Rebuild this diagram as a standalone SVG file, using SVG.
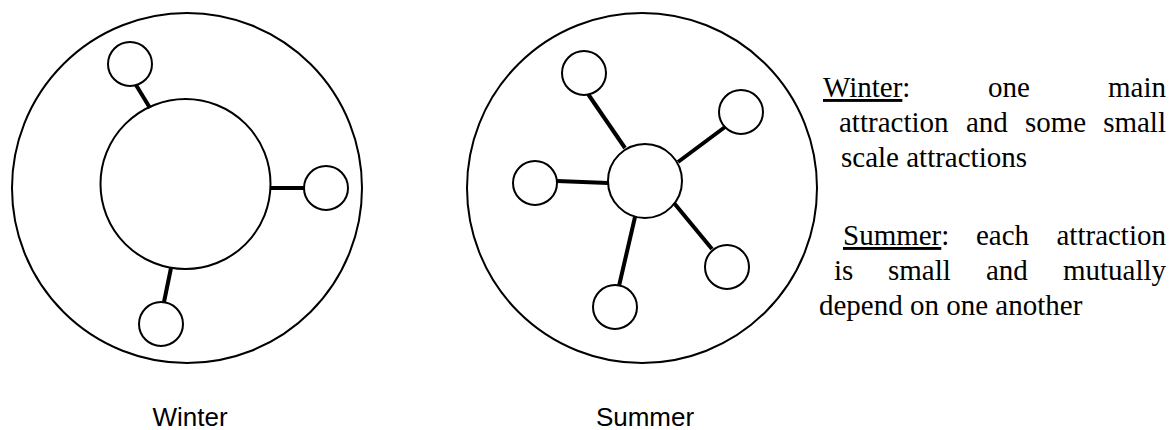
<svg xmlns="http://www.w3.org/2000/svg" width="1176" height="430" viewBox="0 0 1176 430">
<style>
.c{fill:none;stroke:#000;stroke-width:2}
.e{stroke:#000;stroke-width:4;stroke-linecap:butt}
.lbl{font-family:"Liberation Sans",Arial,sans-serif;font-size:26px;fill:#000;text-anchor:middle}
.t{font-family:"Liberation Serif","Times New Roman",serif;font-size:29px;fill:#000}
.u{text-decoration:underline}
.end{text-anchor:end}
</style>
<rect width="1176" height="430" fill="#fff"/>
<g id="winter">
<circle id="winter-outer" class="c" cx="187" cy="188" r="175"/>
<g id="winter-main"><circle class="c" cx="185.5" cy="184" r="85"/></g>
<g id="winter-a1"><circle class="c" cx="130" cy="64" r="22"/></g>
<g id="winter-a2"><circle class="c" cx="326" cy="188" r="22"/></g>
<g id="winter-a3"><circle class="c" cx="161" cy="324" r="22"/></g>
</g>
<g id="summer">
<circle id="summer-outer" class="c" cx="642" cy="188" r="175"/>
<g id="summer-main"><circle class="c" cx="645" cy="181" r="37"/></g>
<g id="summer-a1"><circle class="c" cx="584" cy="73" r="22"/></g>
<g id="summer-a2"><circle class="c" cx="741" cy="112" r="22"/></g>
<g id="summer-a3"><circle class="c" cx="535" cy="183" r="22"/></g>
<g id="summer-a4"><circle class="c" cx="727" cy="267" r="22"/></g>
<g id="summer-a5"><circle class="c" cx="615" cy="307" r="22"/></g>
</g>
<g id="connectors">
<line class="e" x1="136" y1="85" x2="150" y2="108"/>
<line class="e" x1="271" y1="188" x2="304" y2="188"/>
<line class="e" x1="171" y1="268" x2="164" y2="302"/>
<line class="e" x1="588" y1="94" x2="625" y2="148"/>
<line class="e" x1="725" y1="127" x2="678" y2="162"/>
<line class="e" x1="557" y1="181" x2="608" y2="183"/>
<line class="e" x1="674" y1="203" x2="712" y2="249"/>
<line class="e" x1="635" y1="217" x2="619" y2="286"/>
</g>
<g id="labels">
<text class="lbl" x="190" y="426">Winter</text>
<text class="lbl" x="645" y="426">Summer</text>
</g>
<g id="description">
<text class="t" y="97"><tspan x="823" class="u">Winter</tspan><tspan>:</tspan><tspan x="988">one</tspan></text>
<text class="t end" x="1166" y="97">main</text>
<text class="t" y="132"><tspan x="839">attraction</tspan><tspan x="966">and</tspan><tspan x="1025">some</tspan></text>
<text class="t end" x="1166" y="132">small</text>
<text class="t" x="841" y="167">scale attractions</text>
<text class="t" y="245"><tspan x="843" class="u">Summer</tspan><tspan>:</tspan><tspan x="976">each</tspan></text>
<text class="t end" x="1166" y="245">attraction</text>
<text class="t" y="280"><tspan x="834">is</tspan><tspan x="888">small</tspan><tspan x="986">and</tspan></text>
<text class="t end" x="1166" y="280">mutually</text>
<text class="t" x="819" y="315">depend on one another</text>
</g>
</svg>
